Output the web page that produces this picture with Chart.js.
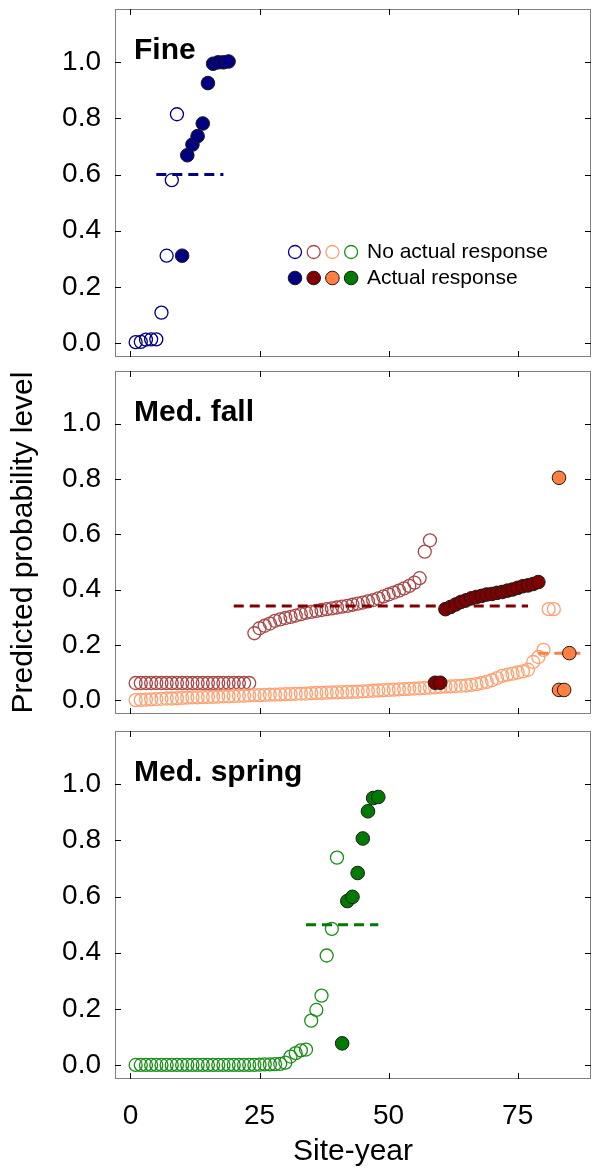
<!DOCTYPE html>
<html>
<head>
<meta charset="utf-8">
<script src="https://cdn.jsdelivr.net/npm/chart.js@4/dist/chart.umd.min.js"></script>
<style>
  html, body { margin: 0; padding: 0; background: #fff; }
  #wrap { position: relative; width: 592px; height: 1172px; }
  .panel { position: absolute; left: 0; width: 592px; }
</style>
</head>
<body>
<div id="wrap">
  <div class="panel" style="top:0;height:362px"><canvas id="fine"></canvas></div>
  <div class="panel" style="top:362px;height:360px"><canvas id="fall"></canvas></div>
  <div class="panel" style="top:722px;height:450px"><canvas id="spring"></canvas></div>
</div>
<script>
// tick labels
var xTicks = [0, 25, 50, 75];
var yTicks = [0, 0.2, 0.4, 0.6, 0.8, 1.0];

// Fine
var fineNoX = [1, 2, 3, 4, 5, 6, 7, 8, 9];
var fineNoY = [0.003, 0.004, 0.012, 0.013, 0.013, 0.108, 0.311, 0.58, 0.815];
var fineYesX = [10, 11, 12, 13, 14, 15, 16, 17, 18, 19];
var fineYesY = [0.311, 0.669, 0.707, 0.737, 0.782, 0.926, 0.995, 1.0, 1.0, 1.003];
var fineCutX = [5, 18];
var fineCutY = [0.6, 0.6];

// Med. fall, first group (dark red)
var fallNoX = [1, 2, 3, 4, 5, 6, 7, 8, 9, 10, 11, 12, 13, 14, 15, 16, 17, 18, 19, 20,
  21, 22, 23, 24, 25, 26, 27, 28, 29, 30, 31, 32, 33, 34, 35, 36, 37, 38, 39, 40,
  41, 42, 43, 44, 45, 46, 47, 48, 49, 50, 51, 52, 53, 54, 55, 56, 57, 58];
var fallNoY = [0.062, 0.062, 0.062, 0.062, 0.062, 0.062, 0.062, 0.062, 0.062, 0.062,
  0.062, 0.062, 0.062, 0.062, 0.062, 0.062, 0.062, 0.062, 0.062, 0.062,
  0.062, 0.062, 0.062, 0.242, 0.26, 0.269, 0.277, 0.287, 0.292, 0.297,
  0.301, 0.306, 0.311, 0.316, 0.319, 0.323, 0.326, 0.329, 0.332, 0.335,
  0.338, 0.341, 0.345, 0.349, 0.353, 0.357, 0.362, 0.368, 0.375, 0.382,
  0.389, 0.396, 0.404, 0.413, 0.425, 0.441, 0.537, 0.578];
var fallYesX = [59, 60, 61, 62, 63, 64, 65, 66, 67, 68, 69, 70, 71, 72, 73, 74, 75, 76, 77, 78, 79];
var fallYesY = [0.063, 0.063, 0.329, 0.337, 0.346, 0.355, 0.361, 0.368, 0.373, 0.377, 0.382,
  0.384, 0.388, 0.391, 0.396, 0.400, 0.406, 0.412, 0.415, 0.420, 0.427];
var fallCutX = [20, 77];
var fallCutY = [0.34, 0.34];

// Med. fall, second group (orange)
var lateNoX = [1, 2, 3, 4, 5, 6, 7, 8, 9, 10, 11, 12, 13, 14, 15, 16, 17, 18, 19, 20,
  21, 22, 23, 24, 25, 26, 27, 28, 29, 30, 31, 32, 33, 34, 35, 36, 37, 38, 39, 40,
  41, 42, 43, 44, 45, 46, 47, 48, 49, 50, 51, 52, 53, 54, 55, 56, 57, 58, 59, 60,
  61, 62, 63, 64, 65, 66, 67, 68, 69, 70, 71, 72, 73, 74, 75, 76, 77, 78, 79, 80, 81, 82];
var lateNoY = [0.000, 0.001, 0.002, 0.003, 0.004, 0.005, 0.006, 0.006, 0.007, 0.008,
  0.009, 0.010, 0.010, 0.011, 0.012, 0.012, 0.013, 0.014, 0.014, 0.015,
  0.016, 0.016, 0.017, 0.018, 0.018, 0.019, 0.020, 0.020, 0.021, 0.022,
  0.022, 0.023, 0.024, 0.024, 0.025, 0.026, 0.026, 0.027, 0.028, 0.028,
  0.029, 0.030, 0.030, 0.031, 0.032, 0.033, 0.034, 0.035, 0.036, 0.037,
  0.038, 0.039, 0.040, 0.041, 0.042, 0.043, 0.044, 0.045, 0.046, 0.048,
  0.049, 0.050, 0.051, 0.052, 0.053, 0.055, 0.058, 0.062, 0.066, 0.072,
  0.080, 0.088, 0.092, 0.096, 0.100, 0.104, 0.110, 0.138, 0.156, 0.182,
  0.329, 0.329];
var lateYesX = [83, 83, 84, 85];
var lateYesY = [0.804, 0.037, 0.037, 0.17];
var lateCutX = [79, 88];
var lateCutY = [0.17, 0.17];

// Med. spring
var springNoX = [1, 2, 3, 4, 5, 6, 7, 8, 9, 10, 11, 12, 13, 14, 15, 16, 17, 18, 19, 20,
  21, 22, 23, 24, 25, 26, 27, 28, 29, 30, 31, 32, 33, 34, 35, 36, 37, 38, 39, 40];
var springNoY = [0, 0, 0, 0, 0, 0, 0, 0, 0, 0, 0, 0, 0, 0, 0, 0, 0, 0, 0, 0,
  0, 0, 0, 0, 0.001, 0.002, 0.002, 0.003, 0.004, 0.008,
  0.03, 0.042, 0.052, 0.055, 0.158, 0.196, 0.247, 0.39, 0.485, 0.739];
var springYesX = [41, 42, 43, 44, 45, 46, 47, 48];
var springYesY = [0.077, 0.584, 0.599, 0.684, 0.807, 0.904, 0.951, 0.955];
var springCutX = [34, 48];
var springCutY = [0.5, 0.5];

var FONT = '"Liberation Sans", Arial, sans-serif';
var navy = '#000080', maroon = '#800000', maroonOpen = '#a84848',
    orange = '#ff8040', orangeOpen = '#ffa070', green = '#007a00', greenOpen = '#1a8f1a';

function pts(xs, ys) {
  return xs.map(function(x, i) { return {x: x, y: ys[i]}; });
}
function openSet(xs, ys, c) {
  return {data: pts(xs, ys), pointRadius: 6.5, pointBackgroundColor: 'rgba(0,0,0,0)',
    pointBorderColor: c, pointBorderWidth: 1.3, showLine: false, order: 3};
}
function fillSet(xs, ys, c) {
  return {data: pts(xs, ys), pointRadius: 6.8, pointBackgroundColor: c,
    pointBorderColor: '#1a1a1a', pointBorderWidth: 1, showLine: false, order: 1};
}
function cutSet(xs, ys, c) {
  return {data: pts(xs, ys), showLine: true, borderColor: c, borderWidth: 3,
    borderDash: [10, 6], pointRadius: 0, order: 2};
}

// frame with inward ticks on all four sides
var frameTicks = {
  id: 'frameTicks',
  beforeDatasetsDraw: function(chart) {
    var ctx = chart.ctx, a = chart.chartArea, x = chart.scales.x, y = chart.scales.y;
    ctx.save();
    ctx.strokeStyle = '#808080';
    ctx.lineWidth = 1;
    ctx.strokeRect(a.left + 0.5, a.top + 0.5, a.right - a.left - 1, a.bottom - a.top - 1);
    ctx.strokeStyle = '#000';
    ctx.beginPath();
    xTicks.forEach(function(v) {
      var px = Math.round(x.getPixelForValue(v)) + 0.5;
      ctx.moveTo(px, a.top); ctx.lineTo(px, a.top + 6);
      ctx.moveTo(px, a.bottom); ctx.lineTo(px, a.bottom - 6);
    });
    yTicks.forEach(function(v) {
      var py = Math.round(y.getPixelForValue(v)) + 0.5;
      ctx.moveTo(a.left, py); ctx.lineTo(a.left + 6, py);
      ctx.moveTo(a.right, py); ctx.lineTo(a.right - 6, py);
    });
    ctx.stroke();
    ctx.restore();
  }
};

var panelLabel = {
  id: 'panelLabel',
  afterDraw: function(chart, args, opts) {
    var ctx = chart.ctx, a = chart.chartArea;
    ctx.save();
    ctx.font = 'bold 30px ' + FONT;
    ctx.fillStyle = '#000';
    ctx.textBaseline = 'alphabetic';
    ctx.fillText(opts.text, a.left + 19, a.top + 50);
    ctx.restore();
  }
};

var keyBox = {
  id: 'keyBox',
  afterDraw: function(chart, args, opts) {
    if (!opts.show) return;
    var ctx = chart.ctx, a = chart.chartArea;
    var openC = [navy, maroonOpen, orangeOpen, greenOpen];
    var fillC = [navy, maroon, orange, green];
    ctx.save();
    for (var i = 0; i < 4; i++) {
      var cx = a.left + 180 + i * 18.7;
      ctx.beginPath();
      ctx.arc(cx, a.top + 243, 6.5, 0, Math.PI * 2);
      ctx.lineWidth = 1.3; ctx.strokeStyle = openC[i]; ctx.stroke();
      ctx.beginPath();
      ctx.arc(cx, a.top + 269, 6.8, 0, Math.PI * 2);
      ctx.fillStyle = fillC[i]; ctx.fill();
      ctx.lineWidth = 1; ctx.strokeStyle = '#1a1a1a'; ctx.stroke();
    }
    ctx.font = '21px ' + FONT;
    ctx.fillStyle = '#000';
    ctx.textBaseline = 'middle';
    ctx.fillText('No actual response', a.left + 252, a.top + 243);
    ctx.fillText('Actual response', a.left + 252, a.top + 269);
    ctx.restore();
  }
};

function makePanel(id, label, datasets, o) {
  new Chart(document.getElementById(id), {
    type: 'scatter',
    data: {datasets: datasets},
    plugins: [frameTicks, panelLabel, keyBox],
    options: {
      responsive: true,
      maintainAspectRatio: false,
      animation: false,
      layout: {autoPadding: false, padding: {left: 0, right: 1, top: 9, bottom: o.bottom}},
      plugins: {
        legend: {display: false},
        tooltip: {enabled: false},
        panelLabel: {text: label},
        keyBox: {show: !!o.key}
      },
      scales: {
        x: {
          type: 'linear', min: -3, max: 89.2,
          grid: {display: false, drawTicks: false},
          border: {display: false},
          afterBuildTicks: function(s) { s.ticks = xTicks.map(function(v) { return {value: v}; }); },
          afterFit: function(s) { s.height = o.xLabels ? 93 : 0; s.paddingLeft = 0; s.paddingRight = 0; },
          ticks: {display: !!o.xLabels, color: '#000', padding: 20, maxRotation: 0,
            font: {family: FONT, size: 28}},
          title: {display: !!o.xLabels, text: 'Site-year', color: '#000',
            font: {family: FONT, size: 30}, padding: {top: 0, bottom: 2}}
        },
        y: {
          type: 'linear', min: -0.05, max: 1.19,
          grid: {display: false, drawTicks: false},
          border: {display: false},
          afterBuildTicks: function(s) { s.ticks = yTicks.map(function(v) { return {value: v}; }); },
          afterFit: function(s) { s.width = 115; s.paddingTop = 0; s.paddingBottom = 0; },
          ticks: {color: '#000', padding: 14, font: {family: FONT, size: 28},
            callback: function(v) { return v.toFixed(1); }},
          title: {display: !!o.yTitle, text: 'Predicted probability level', color: '#000',
            font: {family: FONT, size: 30}, padding: {top: 6, bottom: 0}}
        }
      }
    }
  });
}

makePanel('fine', 'Fine', [
  openSet(fineNoX, fineNoY, navy),
  cutSet(fineCutX, fineCutY, navy),
  fillSet(fineYesX, fineYesY, navy)
], {bottom: 5, key: true});

makePanel('fall', 'Med. fall', [
  openSet(lateNoX, lateNoY, orangeOpen),
  openSet(fallNoX, fallNoY, maroonOpen),
  cutSet(fallCutX, fallCutY, maroon),
  cutSet(lateCutX, lateCutY, orange),
  fillSet(fallYesX, fallYesY, maroon),
  fillSet(lateYesX, lateYesY, orange)
], {bottom: 8, yTitle: true});

makePanel('spring', 'Med. spring', [
  openSet(springNoX, springNoY, greenOpen),
  cutSet(springCutX, springCutY, green),
  fillSet(springYesX, springYesY, green)
], {bottom: 0, xLabels: true});
</script>
</body>
</html>
